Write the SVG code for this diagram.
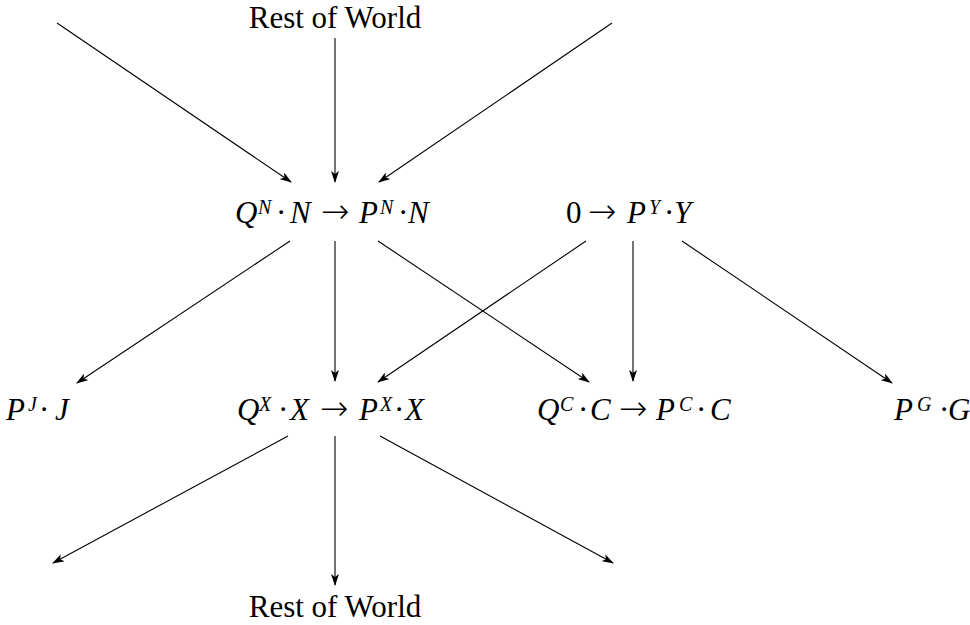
<svg xmlns="http://www.w3.org/2000/svg" width="970" height="625" viewBox="0 0 970 625">
<defs>
<marker id="ah" viewBox="0 0 12 8" refX="11" refY="4" markerWidth="12" markerHeight="8" markerUnits="userSpaceOnUse" orient="auto">
<path d="M0,0 L12,4 L0,8 L3,4 z" fill="#000"/>
</marker>
<style>
.t{font-family:"Liberation Serif","Times New Roman",serif;font-size:31px;fill:#000}
.m{font-family:"Liberation Serif","Times New Roman",serif;font-size:31px;fill:#000}
.i{font-style:italic}
.s{font-size:20px;font-style:italic}
.a{font-family:"DejaVu Sans",sans-serif;font-size:34px;font-weight:200}
.e{stroke:#000;stroke-width:1.1;fill:none;marker-end:url(#ah)}
</style>
</defs>
<rect width="970" height="625" fill="#fff"/>
<g id="rowTop"><text class="t" x="335" y="28" text-anchor="middle">Rest of World</text></g>
<g id="rowBottom"><text class="t" x="335" y="617" text-anchor="middle">Rest of World</text></g>
<g id="N"><text class="m"><tspan class="i" x="235" y="223">Q</tspan><tspan class="s" x="258" y="214">N</tspan><tspan x="276" y="223">·</tspan><tspan class="i" x="290" y="223">N</tspan><tspan class="a" x="321" y="223">→</tspan><tspan class="i" x="359" y="223">P</tspan><tspan class="s" x="380" y="214">N</tspan><tspan x="398" y="223">·</tspan><tspan class="i" x="408" y="223">N</tspan></text></g>
<g id="Y"><text class="m"><tspan x="566" y="223">0</tspan><tspan class="a" x="588" y="223">→</tspan><tspan class="i" x="627" y="223">P</tspan><tspan class="s" x="649" y="214">Y</tspan><tspan x="664" y="223">·</tspan><tspan class="i" x="674" y="223">Y</tspan></text></g>
<g id="J"><text class="m"><tspan class="i" x="6" y="420">P</tspan><tspan class="s" x="28" y="411">J</tspan><tspan x="39" y="420">·</tspan><tspan class="i" x="55" y="420">J</tspan></text></g>
<g id="X"><text class="m"><tspan class="i" x="237" y="420">Q</tspan><tspan class="s" x="259" y="411">X</tspan><tspan x="278" y="420">·</tspan><tspan class="i" x="290" y="420">X</tspan><tspan class="a" x="320" y="420">→</tspan><tspan class="i" x="359" y="420">P</tspan><tspan class="s" x="380" y="411">X</tspan><tspan x="394" y="420">·</tspan><tspan class="i" x="405" y="420">X</tspan></text></g>
<g id="C"><text class="m"><tspan class="i" x="537" y="420">Q</tspan><tspan class="s" x="560" y="411">C</tspan><tspan x="578" y="420">·</tspan><tspan class="i" x="590" y="420">C</tspan><tspan class="a" x="619" y="420">→</tspan><tspan class="i" x="656" y="420">P</tspan><tspan class="s" x="679" y="411">C</tspan><tspan x="696" y="420">·</tspan><tspan class="i" x="710" y="420">C</tspan></text></g>
<g id="G"><text class="m"><tspan class="i" x="894" y="420">P</tspan><tspan class="s" x="917" y="411">G</tspan><tspan x="939" y="420">·</tspan><tspan class="i" x="948" y="420">G</tspan></text></g>
<g id="connectors">
<line class="e" x1="57" y1="23" x2="291" y2="182"/>
<line class="e" x1="335" y1="38" x2="335" y2="182"/>
<line class="e" x1="612" y1="23" x2="379" y2="182"/>
<line class="e" x1="290" y1="241" x2="77" y2="383"/>
<line class="e" x1="335" y1="241" x2="335" y2="381"/>
<line class="e" x1="378" y1="241" x2="589" y2="382"/>
<line class="e" x1="586" y1="241" x2="378" y2="382"/>
<line class="e" x1="633" y1="241" x2="633" y2="381"/>
<line class="e" x1="682" y1="241" x2="892" y2="383"/>
<line class="e" x1="288" y1="436" x2="53" y2="563"/>
<line class="e" x1="335" y1="436" x2="335" y2="585"/>
<line class="e" x1="380" y1="436" x2="613" y2="563"/>
</g>
</svg>
